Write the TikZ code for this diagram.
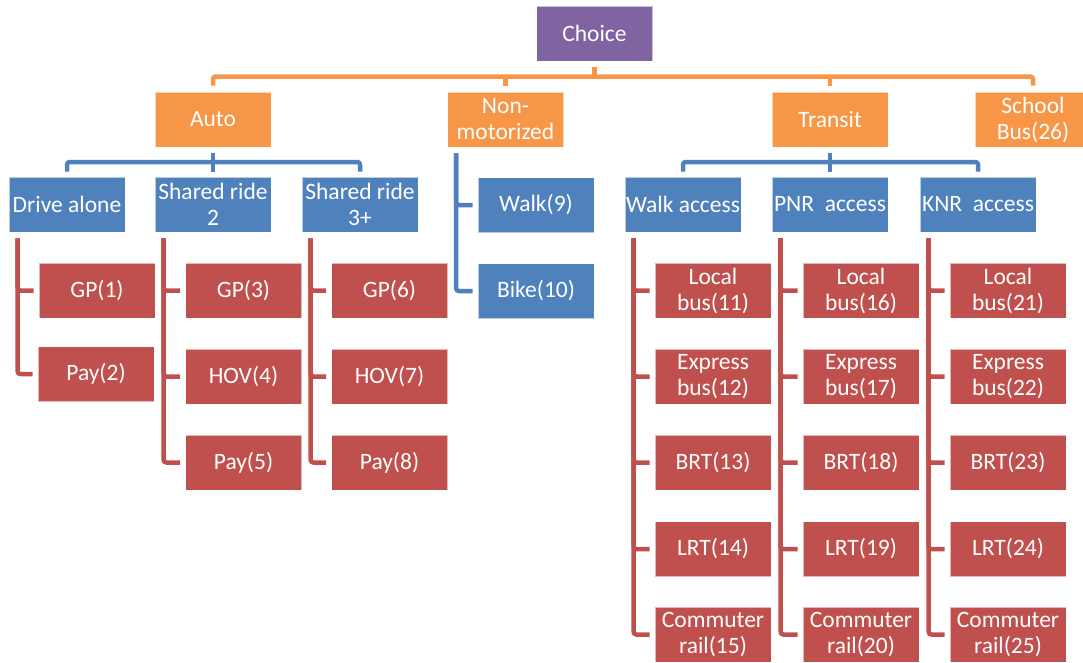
\documentclass[tikz,border=0pt]{standalone}
\usepackage{fontspec}
\setmainfont{Carlito}
\usetikzlibrary{calc}
\definecolor{cpurple}{HTML}{8064A2}
\definecolor{corange}{HTML}{F79646}
\definecolor{cblue}{HTML}{4F81BD}
\definecolor{cred}{HTML}{C0504D}
\tikzset{
  box/.style={rectangle, minimum width=116pt, minimum height=55pt, inner sep=0pt,
    align=center, text=white, draw=white, draw opacity=0.6, line width=0.6pt,
    font=\fontsize{23.5}{26}\selectfont},
  pbox/.style={box, fill=cpurple},
  obox/.style={box, fill=corange},
  bbox/.style={box, fill=cblue},
  rbox/.style={box, fill=cred},
  conn/.style={line width=4.5pt, line join=round, rounded corners=2.5pt},
  oline/.style={conn, draw=corange},
  bline/.style={conn, draw=cblue},
  rline/.style={conn, draw=cred}
}
\begin{document}
\begin{tikzpicture}[x=1pt,y=-1pt]
\useasboundingbox (0,0) rectangle (1083,662);
% level 0
\node[pbox] (choice) at (594.5,33.5) {Choice};
% level 1
\node[obox] (auto) at (213,119.5) {Auto};
\node[obox] (nonmot) at (505.5,119.5) {Non-\\motorized};
\node[obox] (transit) at (830,119.5) {Transit};
\node[obox] (school) at (1033,119.5) {School\\Bus(26)};
% level 2
\node[bbox] (da) at (67,204.5) {Drive alone};
\node[bbox] (sr2) at (213,204.5) {Shared ride\\2};
\node[bbox] (sr3) at (360,204.5) {Shared ride\\3+};
\node[bbox] (walk) at (536,205) {Walk(9)};
\node[bbox] (bike) at (536,291) {Bike(10)};
\node[bbox] (wa) at (683,204.5) {Walk access};
\node[bbox] (pnr) at (830,204.5) {PNR\ \ access};
\node[bbox] (knr) at (978,204.5) {KNR\ \ access};
% level 3 auto
\node[rbox] (gp1) at (97,290.5) {GP(1)};
\node[rbox] (pay2) at (96,374) {Pay(2)};
\node[rbox] (gp3) at (243.5,290.5) {GP(3)};
\node[rbox] (hov4) at (243.5,376.5) {HOV(4)};
\node[rbox] (pay5) at (243.5,462.5) {Pay(5)};
\node[rbox] (gp6) at (389.5,290.5) {GP(6)};
\node[rbox] (hov7) at (389.5,376.5) {HOV(7)};
\node[rbox] (pay8) at (389.5,462.5) {Pay(8)};
% level 3 transit
\node[rbox] (lb11) at (713,290.5) {Local\\bus(11)};
\node[rbox] (eb12) at (713,376.5) {Express\\bus(12)};
\node[rbox] (brt13) at (713,462.5) {BRT(13)};
\node[rbox] (lrt14) at (713,549) {LRT(14)};
\node[rbox] (cr15) at (713,634.5) {Commuter\\rail(15)};
\node[rbox] (lb16) at (861,290.5) {Local\\bus(16)};
\node[rbox] (eb17) at (861,376.5) {Express\\bus(17)};
\node[rbox] (brt18) at (861,462.5) {BRT(18)};
\node[rbox] (lrt19) at (861,549) {LRT(19)};
\node[rbox] (cr20) at (861,634.5) {Commuter\\rail(20)};
\node[rbox] (lb21) at (1008,290.5) {Local\\bus(21)};
\node[rbox] (eb22) at (1008,376.5) {Express\\bus(22)};
\node[rbox] (brt23) at (1008,462.5) {BRT(23)};
\node[rbox] (lrt24) at (1008,549) {LRT(24)};
\node[rbox] (cr25) at (1008,634.5) {Commuter\\rail(25)};
% bar levels
\coordinate (obar) at (0,76.5);
\coordinate (bbar) at (0,162);
% orange connectors
\draw[oline] ($(choice.south)+(0,6)$) -- (choice.south |- obar);
\draw[oline] ($(auto.north)+(0,-6)$) -- (auto.north |- obar) -- (school.north |- obar) -- ($(school.north)+(0,-6)$);
\draw[oline] (nonmot.north |- obar) -- ($(nonmot.north)+(0,-6)$);
\draw[oline] (transit.north |- obar) -- ($(transit.north)+(0,-6)$);
% blue connectors
\draw[bline] ($(da.north)+(0,-5)$) -- (da.north |- bbar) -- (sr3.north |- bbar) -- ($(sr3.north)+(0,-5)$);
\draw[bline] ($(auto.south)+(0,6)$) -- ($(sr2.north)+(0,-5)$);
\draw[bline] ($(wa.north)+(0,-5)$) -- (wa.north |- bbar) -- (knr.north |- bbar) -- ($(knr.north)+(0,-5)$);
\draw[bline] ($(transit.south)+(0,6)$) -- ($(pnr.north)+(0,-5)$);
\foreach \c in {walk,bike}
  \draw[bline] ($(nonmot.south west)+(9,6)$) |- ($(\c.west)+(-5,0)$);
% red connectors
\foreach \p/\cl in {da/{gp1,pay2}, sr2/{gp3,hov4,pay5}, sr3/{gp6,hov7,pay8},
    wa/{lb11,eb12,brt13,lrt14,cr15}, pnr/{lb16,eb17,brt18,lrt19,cr20},
    knr/{lb21,eb22,brt23,lrt24,cr25}}
  \foreach \c in \cl
    \draw[rline] ($(\p.south west)+(9,6)$) |- ($(\c.west)+(-5,0)$);
\end{tikzpicture}
\end{document}
